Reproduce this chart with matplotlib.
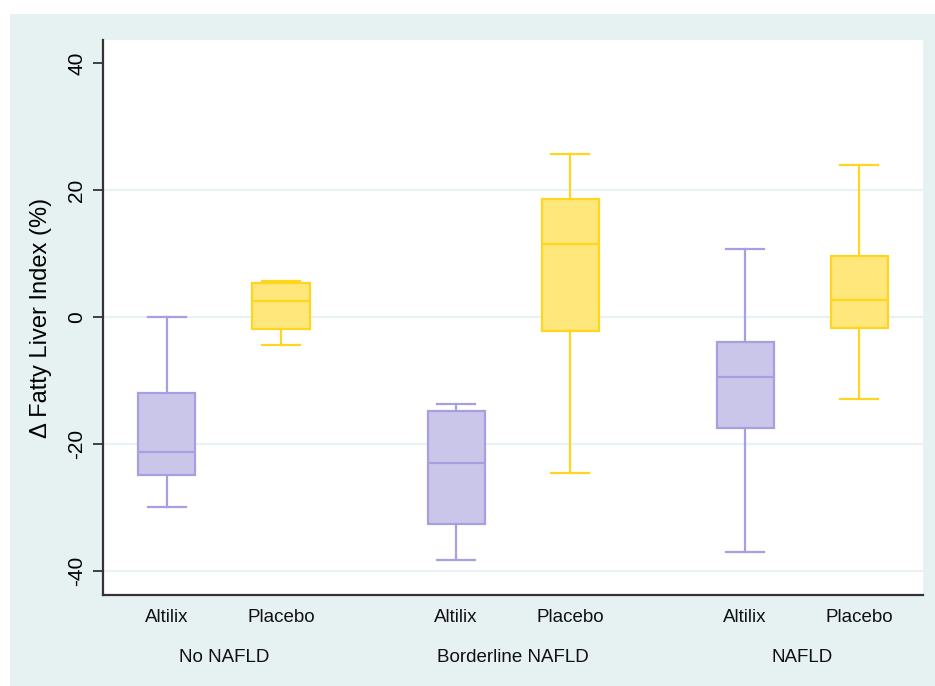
import matplotlib
matplotlib.use("Agg")
import matplotlib.pyplot as plt
from matplotlib.patches import Rectangle

plt.rcParams['font.family'] = ['Liberation Sans', 'DejaVu Sans']

# ---- data ----
groups = ["No NAFLD", "Borderline NAFLD", "NAFLD"]
treatments = ["Altilix", "Placebo"]

altilix_whislo = [-29.9, -38.3, -37.0]
altilix_q1     = [-24.9, -32.6, -17.5]
altilix_med    = [-21.3, -22.9, -9.5]
altilix_q3     = [-12.0, -14.8, -3.9]
altilix_whishi = [0.0, -13.7, 10.7]

placebo_whislo = [-4.4, -24.6, -12.9]
placebo_q1     = [-1.9, -2.2, -1.7]
placebo_med    = [2.5, 11.5, 2.7]
placebo_q3     = [5.4, 18.6, 9.6]
placebo_whishi = [5.7, 25.7, 23.9]

yticks = [-40, -20, 0, 20, 40]
ylabel = "\u0394 Fatty Liver Index (%)"

# ---- styles ----
bg_outer = "#e6f1f2"
grid_c = "#e8f1f3"
colors = {
    "Altilix": ("#c9c6ea", "#a79fdf"),
    "Placebo": ("#ffe77b", "#ffd61f"),
}

fig = plt.figure(figsize=(9.35, 6.86), dpi=100, facecolor="white")
fig.patches.append(Rectangle((10 / 935, 0), 1 - 10 / 935, 1 - 14 / 686,
                             transform=fig.transFigure, facecolor=bg_outer,
                             edgecolor="none", zorder=-10))

ax = fig.add_axes([103 / 935, (686 - 595) / 686, (923 - 103) / 935, (595 - 40) / 686])
ax.set_facecolor("white")

group_gap = 289 / 114
series = {
    "Altilix": (altilix_whislo, altilix_q1, altilix_med, altilix_q3, altilix_whishi),
    "Placebo": (placebo_whislo, placebo_q1, placebo_med, placebo_q3, placebo_whishi),
}

for ti, t in enumerate(treatments):
    lo, q1, med, q3, hi = series[t]
    stats = []
    pos = []
    for gi in range(len(groups)):
        stats.append(dict(whislo=lo[gi], q1=q1[gi], med=med[gi], q3=q3[gi],
                          whishi=hi[gi], fliers=[]))
        pos.append(gi * group_gap + ti)
    fc, ec = colors[t]
    ax.bxp(stats, positions=pos, widths=0.5, capwidths=0.33, patch_artist=True,
           showfliers=False, manage_ticks=False,
           boxprops=dict(facecolor=fc, edgecolor=ec, linewidth=1.6),
           medianprops=dict(color=ec, linewidth=1.6),
           whiskerprops=dict(color=ec, linewidth=1.6),
           capprops=dict(color=ec, linewidth=1.6), zorder=3)

ax.set_xlim(-0.561, 6.63)
ax.set_ylim(-43.75, 43.6)

for y in [-40, -20, 0, 20]:
    ax.axhline(y, color=grid_c, linewidth=1.6, zorder=1)

ax.set_yticks(yticks)
ax.set_yticklabels([str(v) for v in yticks], rotation=90, va="center", fontsize=15)
ax.tick_params(axis="y", direction="out", length=7, width=1.3, color="#333333", pad=5)
ax.set_xticks([])

for s in ["top", "right"]:
    ax.spines[s].set_visible(False)
for s in ["left", "bottom"]:
    ax.spines[s].set_color("#333333")
    ax.spines[s].set_linewidth(1.6)

ax.set_ylabel(ylabel, fontsize=17, labelpad=11)

trans = ax.get_xaxis_transform()
for gi, g in enumerate(groups):
    for ti, t in enumerate(treatments):
        ax.text(gi * group_gap + ti, -22 / 555, t, transform=trans, ha="center",
                va="center", fontsize=13.5, color="#111111")
    ax.text(gi * group_gap + 0.5, -62 / 555, g, transform=trans, ha="center",
            va="center", fontsize=13.5, color="#111111")

fig.savefig("out.png", dpi=100, facecolor=fig.get_facecolor())
